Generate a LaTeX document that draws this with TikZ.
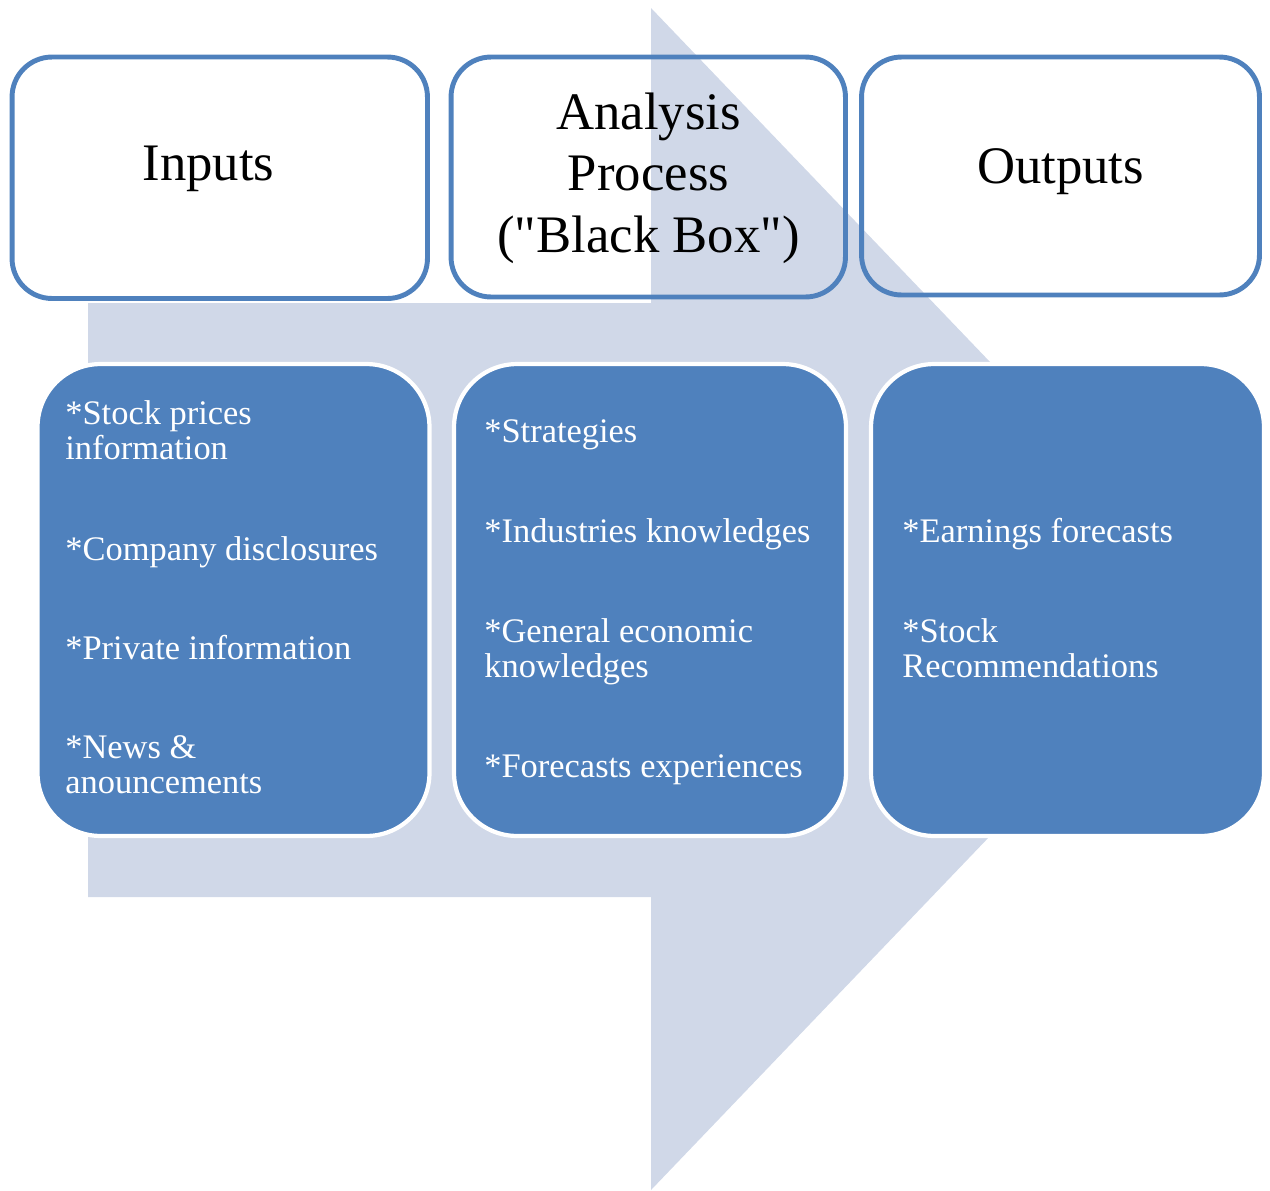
\documentclass[tikz,border=0pt]{standalone}
\usepackage{fontspec}
% plain family: keeps straight quotation marks as typed
\newfontfamily\docfont{Liberation Serif}
\definecolor{accent}{RGB}{79,129,189}
\definecolor{flowtint}{RGB}{208,216,232}
\begin{document}
\begin{tikzpicture}[x=0.02cm, y=-0.02cm,
  headbox/.style={draw=accent, line width=2.8pt, rounded corners=0.8cm,
    rectangle, inner sep=0pt},
  listbox/.style={draw=white, fill=accent, line width=2.4pt,
    rounded corners=1.26cm, rectangle, inner sep=0pt,
    minimum width=7.84cm, minimum height=9.44cm},
  headtext/.style={inner sep=0pt, anchor=base, align=center,
    font=\docfont\fontsize{30}{35}\selectfont},
  itemtext/.style={inner sep=0pt, anchor=base west, align=left,
    text=white, font=\docfont\fontsize{19.6}{19.9}\selectfont}]
\useasboundingbox (0,0) rectangle (1270,1190);

% broad background arrow pointing right
\fill[flowtint] (88,303) -- (651,303) -- (651,8) -- (1217,599)
  -- (651,1190) -- (651,897) -- (88,897) -- cycle;

% stage headings
\node[headbox, minimum width=8.31cm, minimum height=4.83cm] (inhead) at (219.75,177.75) {};
\node[headbox, minimum width=7.89cm, minimum height=4.80cm] (prochead) at (648.25,177) {};
\node[headbox, minimum width=7.96cm, minimum height=4.76cm] (outhead) at (1060.5,176) {};

% multi-line nodes sit on the baseline of their last line
\node[headtext] (inlabel) at (208.5,180) {Inputs};
\node[headtext] (proclabel) at (648.5,252) {Analysis\\Process\\("Black Box")};
\node[headtext] (outlabel) at (1060.5,183) {Outputs};

% stage contents
\node[listbox] (inlist) at (233.5,600) {};
\node[listbox] (proclist) at (650,600) {};
\node[listbox, minimum width=7.86cm] (outlist) at (1067.5,600) {};

\node[itemtext] (in1) at (65,459) {*Stock prices\\information};
\node[itemtext] (in2) at (65,560) {*Company disclosures};
\node[itemtext] (in3) at (65,659) {*Private information};
\node[itemtext] (in4) at (65,793) {*News \&\\anouncements};

\node[itemtext] (pr1) at (484,442) {*Strategies};
\node[itemtext] (pr2) at (484,542) {*Industries knowledges};
\node[itemtext] (pr3) at (484,677) {*General economic\\knowledges};
\node[itemtext] (pr4) at (484,777) {*Forecasts experiences};

\node[itemtext] (out1) at (902,542) {*Earnings forecasts};
\node[itemtext] (out2) at (902,677) {*Stock\\Recommendations};
\end{tikzpicture}
\end{document}
